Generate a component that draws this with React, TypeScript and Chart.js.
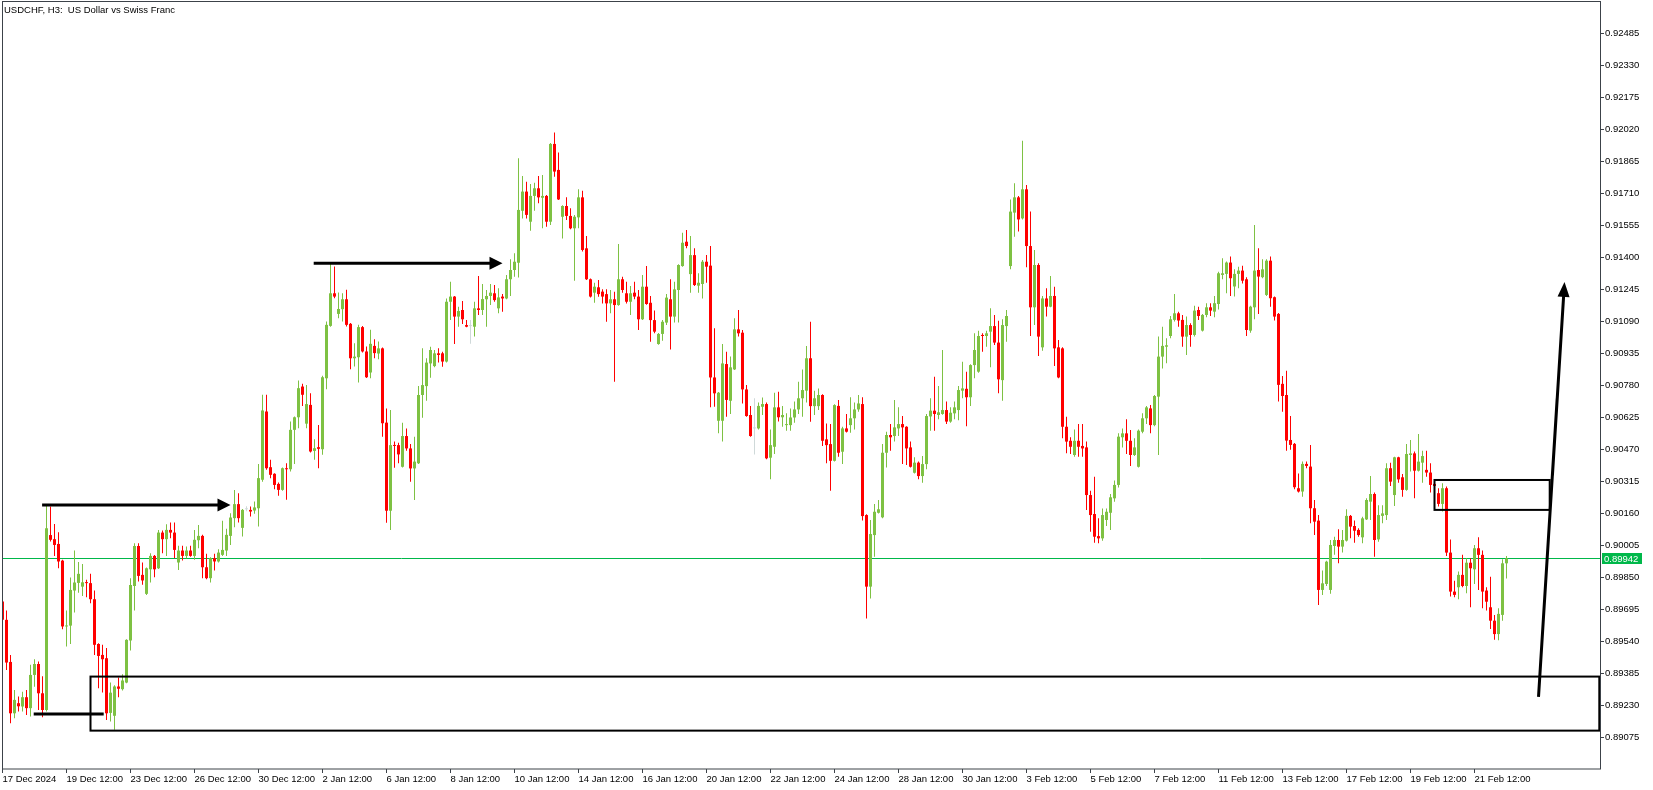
import React, { useEffect, useRef } from "react";
import { Chart, registerables } from "chart.js";

Chart.register(...registerables);

type OHLC = [number, number, number, number];

const chartTitle = "USDCHF, H3:  US Dollar vs Swiss Franc";

const timeLabels = [
  "17 Dec 2024", "19 Dec 12:00", "23 Dec 12:00", "26 Dec 12:00", "30 Dec 12:00",
  "2 Jan 12:00", "6 Jan 12:00", "8 Jan 12:00", "10 Jan 12:00", "14 Jan 12:00",
  "16 Jan 12:00", "20 Jan 12:00", "22 Jan 12:00", "24 Jan 12:00", "28 Jan 12:00",
  "30 Jan 12:00", "3 Feb 12:00", "5 Feb 12:00", "7 Feb 12:00", "11 Feb 12:00",
  "13 Feb 12:00", "17 Feb 12:00", "19 Feb 12:00", "21 Feb 12:00",
];
const barsPerTimeLabel = 16;

const priceTicks = [
  0.89075, 0.8923, 0.89385, 0.8954, 0.89695, 0.8985, 0.90005, 0.9016, 0.90315,
  0.9047, 0.90625, 0.9078, 0.90935, 0.9109, 0.91245, 0.914, 0.91555, 0.9171,
  0.91865, 0.9202, 0.92175, 0.9233, 0.92485,
];
const priceMin = 0.88921;
const priceMax = 0.92639;
const barSlotsMin = -0.125;
const barSlotsMax = 399.375;
const lastPrice = 0.89942;

// OHLC in points (price x 100000): [open, high, low, close]
const candlesPart1: OHLC[] = [
  [89733, 89745, 89636, 89644], [89644, 89689, 89401, 89437], [89440, 89474, 89143, 89191], [89191, 89304, 89167, 89256],
  [89240, 89272, 89200, 89225], [89224, 89296, 89200, 89269], [89269, 89304, 89183, 89216], [89216, 89426, 89175, 89377],
  [89377, 89453, 89320, 89430], [89430, 89442, 89207, 89288], [89288, 89370, 89172, 89207], [89207, 90196, 89200, 90088],
  [90055, 90193, 90024, 90032], [90035, 90109, 89954, 90007], [90012, 90069, 89894, 89927], [89931, 89935, 89599, 89612],
  [89612, 89689, 89515, 89616], [89616, 89849, 89527, 89789], [89786, 89980, 89680, 89825], [89823, 89925, 89775, 89867],
  [89805, 89915, 89760, 89826], [89826, 89838, 89754, 89822], [89822, 89867, 89725, 89744], [89744, 89786, 89474, 89523],
  [89527, 89531, 89313, 89469], [89474, 89523, 89292, 89453], [89458, 89507, 89159, 89191], [89193, 89340, 89151, 89291],
  [89179, 89327, 89111, 89321], [89321, 89365, 89269, 89310], [89308, 89380, 89301, 89350], [89340, 89550, 89337, 89547],
  [89544, 89846, 89495, 89813], [89808, 90015, 89689, 90002], [90002, 90015, 89830, 89857], [89862, 89922, 89814, 89835],
  [89770, 89898, 89765, 89894], [89889, 89967, 89825, 89954], [89954, 89958, 89851, 89889], [89894, 90080, 89890, 90067],
  [90067, 90077, 89967, 90035], [90035, 90108, 89954, 90080], [90080, 90116, 90040, 90067], [90067, 90116, 89943, 89983],
  [89922, 90003, 89886, 89980], [89980, 90003, 89932, 89954], [89954, 90000, 89943, 89980], [89980, 90003, 89950, 89954],
];

const candlesPart2: OHLC[] = [
  [89954, 90080, 89935, 90032], [90030, 90104, 89991, 90051], [90051, 90056, 89846, 89899], [89899, 89964, 89841, 89846],
  [89846, 89947, 89825, 89943], [89943, 89964, 89883, 89927], [89927, 89986, 89922, 89970], [89959, 90124, 89954, 89983],
  [89980, 90085, 89954, 90056], [90051, 90161, 90007, 90140], [90137, 90274, 90093, 90205], [90205, 90258, 90116, 90137],
  [90090, 90181, 90048, 90177], [90180, 90195, 90170, 90180], [90177, 90193, 90145, 90169], [90174, 90218, 90158, 90189],
  [90185, 90400, 90096, 90331], [90323, 90735, 90314, 90659], [90654, 90735, 90371, 90379], [90384, 90420, 90331, 90347],
  [90352, 90355, 90277, 90298], [90303, 90310, 90245, 90274], [90274, 90383, 90270, 90379], [90379, 90403, 90226, 90374],
  [90374, 90605, 90363, 90565], [90565, 90630, 90400, 90626], [90626, 90804, 90573, 90767], [90775, 90788, 90681, 90735],
  [90595, 90783, 90573, 90690], [90686, 90743, 90455, 90460], [90463, 90520, 90420, 90476], [90481, 90589, 90379, 90473],
  [90471, 90827, 90444, 90820], [90815, 91090, 90762, 91074], [91069, 91370, 91065, 91227], [91227, 91357, 91203, 91211],
  [91127, 91231, 91106, 91151], [91150, 91227, 91090, 91198], [91198, 91244, 91066, 91074], [91079, 91083, 90859, 90912],
  [90912, 90985, 90872, 90920], [90917, 91074, 90794, 91063], [91063, 91069, 90940, 90945], [90945, 90969, 90816, 90820],
  [90843, 91050, 90815, 90982], [90972, 91004, 90912, 90937], [90935, 90993, 90907, 90960],
];

const candlesPart3: OHLC[] = [
  [90960, 90964, 90532, 90597], [90600, 90669, 90115, 90173], [90173, 90661, 90079, 90491], [90491, 90508, 90381, 90487],
  [90491, 90503, 90403, 90446], [90386, 90600, 90382, 90535], [90535, 90572, 90464, 90475], [90475, 90496, 90314, 90378],
  [90378, 90532, 90225, 90411], [90403, 90777, 90400, 90734], [90734, 90960, 90624, 90782], [90777, 90912, 90706, 90891],
  [90887, 90968, 90818, 90952], [90874, 90952, 90868, 90936], [90936, 90960, 90891, 90928], [90936, 90944, 90871, 90896],
  [90896, 91202, 90892, 91186], [91186, 91283, 91097, 91211], [91211, 91214, 90981, 91114], [91114, 91162, 91065, 91141],
  [91146, 91190, 91078, 91101], [91073, 91097, 91062, 91065], [91068, 91098, 90982, 91068], [91065, 91186, 91017, 91154],
  [91154, 91311, 91122, 91146], [91146, 91272, 91122, 91199], [91198, 91243, 91065, 91214], [91214, 91272, 91170, 91230],
  [91227, 91267, 91186, 91194], [91154, 91251, 91130, 91207], [91211, 91223, 91138, 91202], [91202, 91316, 91198, 91295],
  [91295, 91392, 91214, 91340], [91340, 91421, 91307, 91380], [91375, 91881, 91304, 91631], [91627, 91795, 91590, 91720],
  [91720, 91768, 91590, 91607], [91574, 91757, 91530, 91699], [91699, 91763, 91627, 91736], [91736, 91795, 91663, 91692],
  [91690, 91800, 91542, 91699], [91699, 91703, 91550, 91574], [91574, 91955, 91558, 91951], [91951, 92007, 91792, 91817],
  [91825, 91910, 91679, 91682], [91598, 91654, 91493, 91650], [91650, 91692, 91582, 91602], [91602, 91639, 91538, 91542],
  [91542, 91606, 91288, 91598],
];

const candlesPart4: OHLC[] = [
  [91595, 91731, 91542, 91692], [91692, 91724, 91429, 91437], [91445, 91505, 91291, 91295], [91295, 91299, 91207, 91211],
  [91230, 91278, 91181, 91259], [91256, 91291, 91210, 91223], [91235, 91246, 91178, 91211], [91223, 91246, 91089, 91178],
  [91178, 91243, 91130, 91198], [91198, 91235, 90798, 91170], [91170, 91466, 91166, 91295], [91295, 91307, 91230, 91243],
  [91227, 91283, 91178, 91186], [91186, 91262, 91122, 91227], [91230, 91283, 91198, 91211], [91211, 91243, 91049, 91101],
  [91101, 91316, 91097, 91259], [91259, 91359, 91171, 91175], [91181, 91214, 90992, 91097], [91097, 91143, 91033, 91041],
  [90981, 91034, 90977, 91030], [91030, 91097, 90997, 91089], [91085, 91223, 91073, 91206], [91198, 91295, 90955, 91114],
  [91114, 91283, 91085, 91246], [91243, 91368, 91085, 91364], [91359, 91521, 91356, 91472], [91477, 91534, 91445, 91456],
  [91320, 91505, 91230, 91412], [91412, 91445, 91262, 91267], [91264, 91324, 91230, 91278], [91272, 91388, 91202, 91380],
  [91380, 91412, 91278, 91356], [91361, 91456, 90674, 90819], [90819, 91057, 90677, 90742], [90609, 90749, 90548, 90745],
  [90609, 90981, 90508, 90887], [90884, 90944, 90629, 90710], [90706, 90920, 90642, 90868], [90858, 91106, 90855, 91052],
  [91052, 91146, 91017, 91033], [91036, 91049, 90693, 90761], [90761, 90782, 90629, 90632], [90637, 90681, 90532, 90535],
  [90572, 90718, 90446, 90572], [90572, 90697, 90567, 90681], [90677, 90722, 90637, 90690], [90690, 90697, 90422, 90427],
];

const candlesPart5: OHLC[] = [
  [90430, 90567, 90325, 90491], [90483, 90745, 90448, 90674], [90674, 90750, 90605, 90626], [90626, 90681, 90580, 90637],
  [90588, 90645, 90561, 90590], [90588, 90669, 90561, 90625], [90625, 90702, 90600, 90664], [90664, 90798, 90642, 90718],
  [90718, 90858, 90629, 90758], [90755, 90971, 90697, 90912], [90912, 91089, 90604, 90680], [90680, 90755, 90637, 90718],
  [90680, 90766, 90661, 90734], [90734, 90738, 90487, 90512], [90519, 90596, 90403, 90491], [90496, 90593, 90270, 90415],
  [90415, 90689, 90411, 90685], [90681, 90710, 90435, 90454], [90459, 90580, 90399, 90572], [90572, 90642, 90552, 90556],
  [90588, 90723, 90551, 90621], [90621, 90697, 90567, 90664], [90664, 90734, 90653, 90693], [90690, 90723, 90125, 90147],
  [90152, 90156, 89651, 89805], [89805, 90128, 89748, 90060], [90055, 90205, 89950, 90168], [90163, 90225, 90160, 90180],
  [90141, 90496, 90137, 90454], [90454, 90556, 90383, 90540], [90540, 90593, 90464, 90529], [90535, 90710, 90508, 90577],
  [90572, 90674, 90535, 90593], [90593, 90632, 90399, 90577], [90580, 90583, 90395, 90475], [90480, 90508, 90383, 90386],
  [90357, 90432, 90354, 90406], [90406, 90411, 90325, 90341], [90341, 90438, 90309, 90399], [90399, 90642, 90374, 90632],
  [90630, 90718, 90561, 90658], [90658, 90823, 90561, 90642], [90637, 90777, 90616, 90650], [90642, 90952, 90638, 90661],
  [90661, 90702, 90593, 90605], [90605, 90674, 90600, 90648], [90645, 90702, 90616, 90674], [90661, 90777, 90612, 90758],
];

const candlesPart6: OHLC[] = [
  [90755, 90895, 90718, 90766], [90764, 90847, 90583, 90723], [90723, 90883, 90681, 90879], [90879, 91033, 90815, 90952],
  [90847, 91046, 90842, 91020], [91025, 91033, 90944, 91020], [91020, 91046, 90968, 91033], [91041, 91154, 90868, 91068],
  [91068, 91122, 90976, 90988], [90988, 91094, 90742, 90810], [90806, 91101, 90706, 91073], [91068, 91146, 90992, 91117],
  [91359, 91682, 91343, 91623], [91618, 91760, 91501, 91692], [91692, 91699, 91526, 91585], [91590, 91967, 91585, 91731],
  [91731, 91752, 91353, 91456], [91456, 91623, 91020, 91159], [91159, 91437, 91073, 91364], [91364, 91372, 90923, 91017],
  [90965, 91214, 90949, 91202], [91202, 91251, 91114, 91162], [91162, 91311, 91159, 91214], [91214, 91259, 90874, 90960],
  [90965, 91001, 90815, 90819], [90960, 90965, 90524, 90580], [90580, 90629, 90451, 90508], [90512, 90529, 90448, 90483],
  [90443, 90567, 90435, 90512], [90512, 90593, 90435, 90483], [90487, 90593, 90435, 90475], [90480, 90508, 90176, 90249],
  [90249, 90270, 90071, 90152], [90157, 90338, 90018, 90047], [90050, 90136, 90015, 90039], [90039, 90184, 90028, 90152],
  [90128, 90184, 90099, 90168], [90163, 90254, 90079, 90238], [90233, 90319, 90217, 90298], [90298, 90548, 90286, 90532],
  [90529, 90572, 90480, 90548], [90548, 90616, 90448, 90512], [90512, 90564, 90390, 90443], [90443, 90524, 90438, 90480],
  [90386, 90567, 90382, 90561], [90556, 90645, 90548, 90621], [90621, 90681, 90593, 90674], [90669, 90685, 90548, 90588],
  [90588, 90734, 90583, 90729], [90726, 91017, 90443, 90920],
];

const candlesPart7: OHLC[] = [
  [90920, 91065, 90863, 90972], [90968, 91009, 90888, 90975], [91020, 91117, 91009, 91101], [91098, 91224, 91090, 91130],
  [91130, 91138, 91065, 91095], [91098, 91122, 90968, 91017], [91017, 91114, 90928, 91073], [91073, 91082, 90968, 91025],
  [91025, 91166, 91017, 91143], [91146, 91162, 91098, 91117], [91046, 91126, 91042, 91122], [91122, 91179, 91111, 91159],
  [91159, 91179, 91117, 91143], [91138, 91214, 91111, 91179], [91175, 91332, 91149, 91324], [91316, 91397, 91295, 91324],
  [91321, 91381, 91227, 91376], [91376, 91405, 91214, 91300], [91260, 91343, 91211, 91321], [91321, 91356, 91251, 91337],
  [91337, 91360, 91275, 91288], [91295, 91305, 91020, 91049], [91046, 91166, 91036, 91162], [91159, 91558, 91101, 91337],
  [91340, 91445, 91127, 91308], [91305, 91392, 91300, 91343], [91219, 91392, 91214, 91385], [91385, 91405, 91162, 91203],
  [91208, 91211, 91095, 91114], [91127, 91131, 90702, 90783], [90788, 90826, 90653, 90729], [90734, 90852, 90464, 90513],
  [90516, 90632, 90468, 90492], [90497, 90501, 90277, 90287], [90282, 90354, 90261, 90266], [90266, 90411, 90241, 90400],
  [90400, 90411, 90379, 90390], [90387, 90492, 90112, 90185], [90185, 90225, 90055, 90120], [90125, 90152, 89716, 89789],
  [89789, 89883, 89765, 89821], [89818, 89931, 89808, 89926], [89789, 90031, 89770, 90007], [90002, 90047, 89959, 90031],
  [90031, 90083, 89918, 89999], [89999, 90080, 89970, 90031],
];

const candlesPart8: OHLC[] = [
  [90028, 90180, 90024, 90148], [90148, 90152, 90039, 90096], [90099, 90125, 90018, 90076], [90080, 90088, 90047, 90055],
  [90044, 90144, 90015, 90136], [90131, 90233, 90128, 90225], [90217, 90341, 90128, 90254], [90254, 90261, 89950, 90031],
  [90034, 90200, 90023, 90152], [90148, 90200, 90112, 90160], [90152, 90403, 90128, 90379], [90379, 90406, 90293, 90314],
  [90249, 90435, 90196, 90432], [90432, 90435, 90309, 90325], [90335, 90351, 90241, 90274], [90274, 90497, 90270, 90448],
  [90443, 90516, 90363, 90451], [90451, 90460, 90233, 90367], [90367, 90545, 90363, 90411], [90406, 90464, 90309, 90438],
  [90371, 90464, 90338, 90358], [90358, 90403, 90261, 90298], [90303, 90322, 90282, 90293], [90258, 90282, 90193, 90206],
  [90206, 90306, 90169, 90282], [90282, 90290, 89954, 89970], [89970, 90034, 89757, 89781], [89781, 89834, 89753, 89765],
  [89802, 89878, 89744, 89862], [89862, 89959, 89802, 89808], [89808, 89942, 89773, 89921], [89921, 89942, 89705, 89894],
  [89889, 90007, 89818, 89991], [89991, 90044, 89789, 89959], [89959, 89980, 89700, 89781], [89786, 89802, 89689, 89732],
  [89705, 89853, 89600, 89640], [89640, 89668, 89548, 89575], [89575, 89700, 89545, 89673], [89668, 89938, 89640, 89918],
  [89918, 89954, 89845, 89942],
];

// Drawn objects, in data units: bar index and price
const arrowsHorizontal = [
  { fromBar: 9.9, toBar: 57, price: 0.90201 },
  { fromBar: 77.8, toBar: 125, price: 0.91373 },
];
const levelSegments = [{ fromBar: 7.8, toBar: 25.3, price: 0.89188 }];
const zoneBoxes = [
  { fromBar: 22, toBar: 399.2, top: 0.89369, bottom: 0.89107 },
  { fromBar: 358, toBar: 386.8, top: 0.90322, bottom: 0.90177 },
];
const trendArrow = { fromBar: 384, fromPrice: 0.89271, toBar: 390.5, toPrice: 0.91282 };

const allCandles: OHLC[] = [
  ...candlesPart1, ...candlesPart2, ...candlesPart3, ...candlesPart4,
  ...candlesPart5, ...candlesPart6, ...candlesPart7, ...candlesPart8,
];

const BULL = "#7ec143";
const BEAR = "#ff0000";
const DOJI = "#cfd9d9";
const FRAME = "#3c4249";
const BID = "#00b84a";
const FONT_FAMILY = '"Liberation Sans", Arial, sans-serif';
const FONT_SIZE = 9.5;

const zeroPadding = (scale: any) => {
  scale.paddingTop = 0;
  scale.paddingBottom = 0;
  scale.paddingLeft = 0;
  scale.paddingRight = 0;
};

export default function App() {
  const canvasRef = useRef<HTMLCanvasElement | null>(null);

  useEffect(() => {
    const canvas = canvasRef.current;
    if (!canvas) return;
    const bars = allCandles.map(([o, h, l, c]) => ({ o: o / 1e5, h: h / 1e5, l: l / 1e5, c: c / 1e5 }));
    const colors = bars.map((b) => (b.c > b.o ? BULL : b.c < b.o ? BEAR : DOJI));
    const wickData = bars.map((b, i) => ({ x: i, y: [b.l, b.h] }));
    const bodyData = bars.map((b, i) => ({ x: i, y: [Math.min(b.o, b.c), Math.max(b.o, b.c)] }));

    const overlay = {
      id: "mtOverlay",
      beforeDraw(chart: any) {
        const ctx = chart.ctx;
        ctx.save();
        ctx.fillStyle = "#ffffff";
        ctx.fillRect(0, 0, chart.width, chart.height);
        ctx.restore();
      },
      beforeDatasetsDraw(chart: any) {
        const ctx = chart.ctx;
        const ca = chart.chartArea;
        const y = Math.round(chart.scales.y.getPixelForValue(lastPrice)) + 0.5;
        ctx.save();
        ctx.strokeStyle = BID;
        ctx.lineWidth = 1;
        ctx.beginPath();
        ctx.moveTo(ca.left, y);
        ctx.lineTo(ca.right, y);
        ctx.stroke();
        ctx.restore();
      },
      afterDraw(chart: any) {
        const ctx = chart.ctx;
        const ca = chart.chartArea;
        const xs = chart.scales.x;
        const ys = chart.scales.y;
        const px = (v: number) => xs.getPixelForValue(v);
        const py = (v: number) => ys.getPixelForValue(v);
        ctx.save();

        // frame
        ctx.strokeStyle = FRAME;
        ctx.lineWidth = 1;
        ctx.strokeRect(ca.left + 0.5, ca.top - 0.5, ca.right - ca.left, ca.bottom - ca.top + 0.5);

        ctx.beginPath();
        ctx.rect(ca.left, ca.top, ca.right - ca.left, ca.bottom - ca.top);
        ctx.clip();

        ctx.strokeStyle = "#000000";
        ctx.fillStyle = "#000000";

        // zone boxes
        ctx.lineWidth = 2;
        zoneBoxes.forEach((b) => {
          const x1 = px(b.fromBar), x2 = px(b.toBar);
          const y1 = py(b.top), y2 = py(b.bottom);
          ctx.strokeRect(x1, y1, x2 - x1, y2 - y1);
        });

        // horizontal level segments
        ctx.lineWidth = 3;
        levelSegments.forEach((s) => {
          const y = py(s.price);
          ctx.beginPath();
          ctx.moveTo(px(s.fromBar), y);
          ctx.lineTo(px(s.toBar), y);
          ctx.stroke();
        });

        // horizontal arrows
        const head = 13;
        arrowsHorizontal.forEach((a) => {
          const y = py(a.price);
          const x1 = px(a.fromBar), x2 = px(a.toBar);
          ctx.lineWidth = 3;
          ctx.beginPath();
          ctx.moveTo(x1, y);
          ctx.lineTo(x2 - head + 1, y);
          ctx.stroke();
          ctx.beginPath();
          ctx.moveTo(x2, y);
          ctx.lineTo(x2 - head, y - 6.5);
          ctx.lineTo(x2 - head, y + 6.5);
          ctx.closePath();
          ctx.fill();
        });

        // trend arrow
        {
          const x1 = px(trendArrow.fromBar), y1 = py(trendArrow.fromPrice);
          const x2 = px(trendArrow.toBar), y2 = py(trendArrow.toPrice);
          const dx = x2 - x1, dy = y2 - y1;
          const len = Math.hypot(dx, dy);
          const ux = dx / len, uy = dy / len;
          const hl = 15, hw = 6;
          const bx = x2 - ux * hl, by = y2 - uy * hl;
          ctx.lineWidth = 3;
          ctx.beginPath();
          ctx.moveTo(x1, y1);
          ctx.lineTo(bx + ux, by + uy);
          ctx.stroke();
          ctx.beginPath();
          ctx.moveTo(x2, y2);
          ctx.lineTo(bx - uy * hw, by + ux * hw);
          ctx.lineTo(bx + uy * hw, by - ux * hw);
          ctx.closePath();
          ctx.fill();
        }
        ctx.restore();

        // bid price tag on the axis
        ctx.save();
        const ty = Math.round(py(lastPrice)) + 0.5;
        ctx.fillStyle = BID;
        ctx.fillRect(ca.right + 2, ty - 5.5, 40, 11);
        ctx.fillStyle = "#ffffff";
        ctx.font = `${FONT_SIZE}px ${FONT_FAMILY}`;
        ctx.textBaseline = "middle";
        ctx.textAlign = "left";
        ctx.fillText(lastPrice.toFixed(5), ca.right + 4, ty + 0.5);

        // title
        ctx.fillStyle = "#000000";
        ctx.fillText(chartTitle, 4, 10);
        ctx.restore();
      },
    };

    const chart = new Chart(canvas, {
      type: "bar",
      data: {
        datasets: [
          {
            label: "wick",
            data: wickData as any,
            backgroundColor: colors,
            barThickness: 1,
            grouped: false,
            inflateAmount: 0,
            minBarLength: 1,
            order: 2,
          } as any,
          {
            label: "body",
            data: bodyData as any,
            backgroundColor: colors,
            barThickness: 3,
            grouped: false,
            inflateAmount: 0,
            minBarLength: 1,
            order: 1,
          } as any,
        ],
      },
      options: {
        responsive: false,
        animation: false,
        events: [],
        layout: { padding: { left: 2, top: 2, right: 0, bottom: 0 } },
        plugins: {
          legend: { display: false },
          tooltip: { enabled: false },
          title: { display: false },
        },
        scales: {
          x: {
            type: "linear",
            min: barSlotsMin,
            max: barSlotsMax,
            offset: false,
            grid: { display: true, drawOnChartArea: false, drawTicks: true, tickLength: 4, color: FRAME, offset: false },
            border: { display: false },
            ticks: {
              autoSkip: false,
              maxRotation: 0,
              minRotation: 0,
              align: "start",
              padding: 1,
              color: "#000000",
              font: { family: FONT_FAMILY, size: FONT_SIZE },
              callback: (_v: any, index: number) => timeLabels[index] ?? "",
            },
            afterBuildTicks: (scale: any) => {
              scale.ticks = timeLabels.map((_, k) => ({ value: k * barsPerTimeLabel }));
            },
            afterFit: (scale: any) => {
              scale.height = 21;
              zeroPadding(scale);
            },
          } as any,
          y: {
            type: "linear",
            position: "right",
            min: priceMin,
            max: priceMax,
            stacked: false,
            grid: { display: true, drawOnChartArea: false, drawTicks: true, tickLength: 4, color: FRAME },
            border: { display: false },
            ticks: {
              padding: 1,
              color: "#000000",
              font: { family: FONT_FAMILY, size: FONT_SIZE },
              callback: (v: any) => Number(v).toFixed(5),
            },
            afterBuildTicks: (scale: any) => {
              scale.ticks = priceTicks.map((v) => ({ value: v }));
            },
            afterFit: (scale: any) => {
              scale.width = 53;
              zeroPadding(scale);
            },
          } as any,
        },
      },
      plugins: [overlay as any],
    });

    return () => {
      chart.destroy();
    };
  }, []);

  return (
    <div style={{ position: "absolute", left: 0, top: 0, width: 1653, height: 790, background: "#ffffff" }}>
      <canvas ref={canvasRef} width={1653} height={790} style={{ display: "block", width: 1653, height: 790 }} />
    </div>
  );
}
